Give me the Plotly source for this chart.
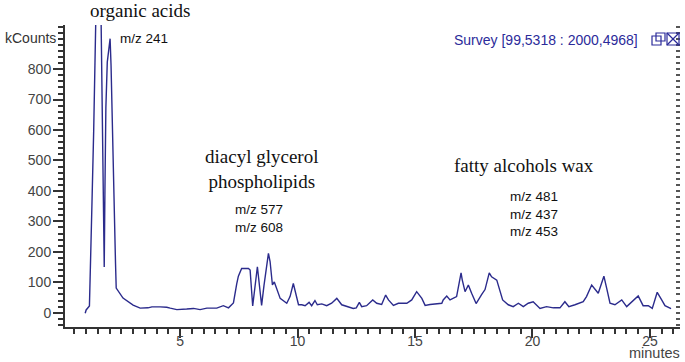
import plotly.graph_objects as go

# retention time (minutes) and intensity (kCounts)
time_min = [0.96, 1.0, 1.14, 1.17, 1.25, 1.32, 1.37, 1.42, 1.63, 1.66, 1.70, 1.74, 1.77, 1.80, 1.84, 1.90,
            1.95, 2.02, 2.06, 2.10, 2.14, 2.19, 2.25, 2.28, 2.57, 3.0, 3.3, 3.63, 3.8, 4.15, 4.43, 4.58,
            4.86, 5.28, 5.57, 5.85, 6.14, 6.56, 6.84, 7.06, 7.27, 7.41, 7.48, 7.62, 7.91, 7.98, 8.09,
            8.29, 8.47, 8.57, 8.69, 8.76, 8.83, 8.93, 9.01, 9.10, 9.26, 9.54, 9.68, 9.82, 9.89, 10.04,
            10.18, 10.32, 10.49, 10.60, 10.74, 10.84, 11.03, 11.24, 11.45, 11.67, 11.88, 12.16, 12.37,
            12.50, 12.63, 12.73, 12.94, 13.20, 13.37, 13.58, 13.75, 13.87, 14.08, 14.29, 14.65, 14.86,
            15.07, 15.29, 15.43, 15.64, 16.14, 16.20, 16.35, 16.49, 16.77, 16.96, 17.01, 17.13, 17.27,
            17.41, 17.60, 17.84, 17.98, 18.16, 18.26, 18.48, 18.73, 18.97, 19.18, 19.40, 19.61, 19.82,
            20.03, 20.32, 20.60, 20.89, 21.17, 21.38, 21.55, 21.81, 22.16, 22.30, 22.52, 22.80, 23.04,
            23.16, 23.30, 23.51, 23.80, 24.01, 24.22, 24.50, 24.71, 24.93, 25.10, 25.31, 25.50, 25.64,
            25.90]
intensity = [-2, 9, 22, 140, 365, 594, 830, 1000, 1000, 836, 622, 403, 150, 403, 672, 823,
             860, 900, 813, 655, 491, 327, 163, 81, 48, 25, 15, 16, 19, 19, 18, 15,
             10, 12, 14, 10, 15, 15, 23, 16, 32, 95, 120, 145, 145, 140, 22,
             151, 24, 89, 151, 195, 168, 91, 101, 80, 47, 31, 53, 96, 74, 26,
             26, 23, 34, 23, 40, 26, 29, 23, 31, 47, 26, 20, 14,
             16, 34, 20, 23, 42, 31, 27, 58, 42, 24, 31, 31, 42,
             69, 47, 24, 27, 31, 42, 55, 42, 53, 131, 108, 69, 91,
             64, 30, 60, 76, 131, 118, 107, 42, 26, 20, 31, 20, 31,
             36, 14, 20, 16, 16, 36, 20, 26, 36, 53, 91, 64, 120,
             80, 31, 26, 42, 20, 36, 55, 23, 23, 14, 67, 42, 23,
             13]

y_tickvals = [0, 100, 200, 300, 400, 500, 600, 700, 800]
x_tickvals = [5, 10, 15, 20, 25]

X_RANGE = [0.1, 26.28]
Y_RANGE = [-47, 945]
LINE = "#2b2b8c"
AX = "#333333"

fig = go.Figure()
fig.add_trace(go.Scatter(x=time_min, y=intensity, mode="lines",
                         line=dict(color=LINE, width=1.4), hoverinfo="skip"))
fig.add_trace(go.Scatter(x=[time_min[0], time_min[-1]], y=[intensity[0], intensity[-1]],
                         mode="lines", line=dict(width=0), yaxis="y2", hoverinfo="skip"))

fig.update_layout(
    width=685, height=362,
    margin=dict(l=65, r=5, t=25, b=35, autoexpand=False),
    paper_bgcolor="white", plot_bgcolor="white",
    showlegend=False,
    font=dict(family="Liberation Sans, Arial", color=AX, size=14),
    xaxis=dict(range=X_RANGE, tickvals=x_tickvals, showgrid=False, zeroline=False,
               showline=True, linecolor=AX, linewidth=2, ticks="outside", ticklen=9,
               tickcolor=AX, tickwidth=1.5, ticklabelstandoff=-9,
               minor=dict(dtick=0.5, tick0=0, ticks="outside", ticklen=5, tickcolor=AX, tickwidth=1.5, showgrid=False),
               tickfont=dict(size=14, color="#444")),
    yaxis=dict(range=Y_RANGE, tickvals=y_tickvals, showgrid=False, zeroline=False,
               showline=True, linecolor=AX, linewidth=2, ticks="outside", ticklen=10,
               tickcolor=AX, tickwidth=1.5, ticklabelstandoff=-1,
               minor=dict(dtick=20, tick0=0, ticks="outside", ticklen=5, tickcolor=AX, tickwidth=1.5, showgrid=False),
               tickfont=dict(size=14, color="#444")),
    yaxis2=dict(range=Y_RANGE, overlaying="y", side="right", showgrid=False, zeroline=False,
                showline=False, showticklabels=False, tickmode="linear", dtick=20, tick0=0,
                ticks="inside", ticklen=4, tickcolor="#555", tickwidth=1.5),
)

serif = dict(family="Liberation Serif, Times New Roman", size=19, color="#111")
sans = dict(family="Liberation Sans, Arial", size=13.5, color="#111")

def ann(text, x, y, font, xanchor="center", yanchor="middle", **kw):
    fig.add_annotation(text=text, x=x, y=y, xref="paper", yref="paper", showarrow=False,
                       font=font, xanchor=xanchor, yanchor=yanchor, align="center", **kw)

def px(xp):
    return (xp - 65) / 615

def py(yp):
    return (327 - yp) / 302

ann("organic acids", px(140), py(11), serif)
ann("kCounts", px(58), py(38), dict(family="Liberation Sans, Arial", size=14, color="#333"), xanchor="right")
ann("m/z 241", px(118), py(38), sans, xanchor="left")
ann("diacyl glycerol<br>phospholipids", px(261), py(169), serif)
ann("m/z 577<br>m/z 608", px(259), py(218), sans)
ann("fatty alcohols wax", px(524), py(165), serif)
ann("m/z 481<br>m/z 437<br>m/z 453", px(534), py(214), sans)
ann("Survey [99,5318 : 2000,4968]", px(640), py(40),
    dict(family="Liberation Sans, Arial", size=14, color="#2b2b9a"), xanchor="right")
ann("minutes", px(682), py(353), dict(family="Liberation Sans, Arial", size=14.5, color="#444"), xanchor="right")

# window icons
icon_col = "#2b2b9a"
def rect(x0, y0, x1, y1):
    fig.add_shape(type="rect", xref="paper", yref="paper", x0=px(x0), x1=px(x1), y0=py(y1), y1=py(y0),
                  line=dict(color=icon_col, width=1.2))
def seg(x0, y0, x1, y1):
    fig.add_shape(type="line", xref="paper", yref="paper", x0=px(x0), x1=px(x1), y0=py(y0), y1=py(y1),
                  line=dict(color=icon_col, width=1.2))
rect(652, 36, 661, 45)
rect(656, 33, 665, 41)
rect(667, 33, 679, 45)
seg(667, 33, 679, 45)
seg(667, 45, 679, 33)

fig.write_html("out.html", config={"displayModeBar": False},
               post_script="document.body.style.margin='0';document.body.style.overflow='hidden';")
